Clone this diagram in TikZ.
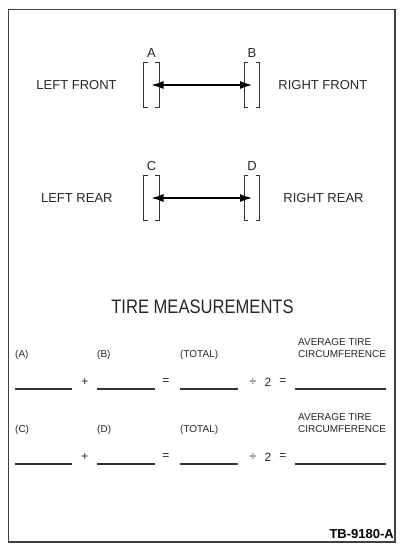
\documentclass[tikz,border=0pt]{standalone}
\usepackage{fontspec}
\setmainfont{Liberation Sans}
\newfontfamily\titlefont[FakeStretch=0.85]{Liberation Sans}
\usetikzlibrary{arrows.meta, positioning}

\begin{document}
\begin{tikzpicture}[x=1pt, y=-1pt, node distance=20pt, auto]
    \tikzstyle{wheel} = [rectangle, minimum width=15pt, minimum height=44pt, inner sep=0pt]
    \tikzstyle{bracket} = [draw, line width=1.2pt, black!80]
    \tikzstyle{sidename} = [font=\fontsize{13}{15}\selectfont, inner sep=0pt, text=black!85]
    \tikzstyle{line} = [draw, line width=1.1pt, {Latex[length=12pt,width=8pt]}-{Latex[length=12pt,width=8pt]}]
    \tikzstyle{smalltext} = [font=\fontsize{10}{12}\selectfont, inner sep=0pt, anchor=west, align=left, text=black!85]
    \tikzstyle{opsym} = [font=\fontsize{12}{14}\selectfont, inner sep=0pt, text=black!85]
    \tikzstyle{blankline} = [draw, line width=1.4pt, black!80]

    \useasboundingbox (0,0) rectangle (403,552);
    \draw [line width=1.5pt, black!75] (8.5,9.5) rectangle (395,542);

    % wheels and names
    \node [wheel] (lf) at (151.5,85) {};
    \node [wheel] (rf) at (252,85) {};
    \node [wheel] (lr) at (151.5,198) {};
    \node [wheel] (rr) at (252,198) {};

    \node [sidename, above=5pt of lf] (lblA) {A};
    \node [sidename, above=5pt of rf] (lblB) {B};
    \node [sidename, above=5pt of lr] (lblC) {C};
    \node [sidename, above=5pt of rr] (lblD) {D};

    \node [sidename, left=27pt of lf] (lfname) {LEFT FRONT};
    \node [sidename, right=18.5pt of rf] (rfname) {RIGHT FRONT};
    \node [sidename, left=31pt of lr] (lrname) {LEFT REAR};
    \node [sidename, right=23.5pt of rr] (rrname) {RIGHT REAR};

    \foreach \w in {lf, rf, lr, rr} {
        \path [bracket] ([xshift=4pt]\w.north west) -| (\w.south west) -- ++(4,0);
        \path [bracket] ([xshift=-4pt]\w.north east) -| (\w.south east) -- ++(-4,0);
    }

    \path [line] (lf.center) -- (rf.center);
    \path [line] (lr.center) -- (rr.center);

    % measurement sheet
    \node [font=\titlefont\fontsize{19.5}{22}\selectfont, text=black!85] (title) at (202.5,307) {TIRE MEASUREMENTS};

    \foreach \p/\q/\dy in {A/B/0, C/D/75} {
        \node [smalltext] (meas\p) at (15,355+\dy) {(\p)};
        \node [smalltext] (meas\q) at (97,355+\dy) {(\q)};
        \node [smalltext] (total\p) at (180,355+\dy) {(TOTAL)};
        \node [smalltext] (avg\p) at (298,348+\dy) {AVERAGE TIRE\\CIRCUMFERENCE};
        \node [opsym] (plus\p) at (85,382+\dy) {+};
        \node [opsym] (eq\p) at (166,382+\dy) {=};
        \node [opsym] (div\p) at (253,382+\dy) {÷};
        \node [opsym] (two\p) at (268,382+\dy) {2};
        \node [opsym] (res\p) at (283,382+\dy) {=};
        \path [blankline] (15,389+\dy) -- ++(57,0);
        \path [blankline] (97,389+\dy) -- ++(58,0);
        \path [blankline] (180,389+\dy) -- ++(58,0);
        \path [blankline] (295,389+\dy) -- ++(91,0);
    }

    \node [font=\bfseries\fontsize{13}{15}\selectfont, anchor=south east, inner sep=0pt] (tbnum) at (394,539) {TB-9180-A};
\end{tikzpicture}
\end{document}
